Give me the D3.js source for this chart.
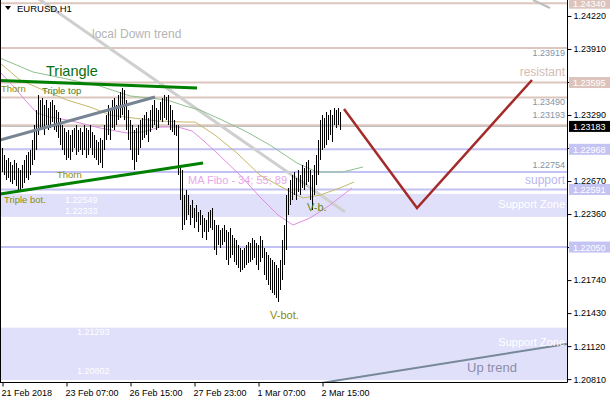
<!DOCTYPE html>
<html><head><meta charset="utf-8">
<script src="https://cdn.jsdelivr.net/npm/d3@7"></script>
<style>
body{margin:0;background:#fff;}
svg{display:block;font-family:"Liberation Sans",Arial,sans-serif;}
</style></head><body>
<svg id="c" width="610" height="400"></svg>
<script>
// ---------- data ----------
const symbol = "EURUSD,H1";
const dateLabels = ["21 Feb 2018","23 Feb 07:00","26 Feb 15:00","27 Feb 23:00","1 Mar 07:00","2 Mar 15:00"];
const dateIndex = [0,32,64,96,128,160];
const priceTicks = [1.24220,1.23910,1.23600,1.23290,1.22980,1.22670,1.22360,1.22050,1.21740,1.21430,1.21120,1.20810];

const highs = [
1.22980,1.22914,1.22867,1.22886,1.22849,1.22820,1.22867,1.22839,1.22792,1.22773,1.22820,1.22867,1.22914,1.22943,1.22961,
1.23055,1.23196,1.23337,1.23478,1.23431,1.23450,1.23384,1.23431,1.23356,1.23412,1.23431,1.23384,1.23337,1.23318,1.23262,
1.23196,1.23168,1.23131,1.23149,1.23102,1.23149,1.23168,1.23196,1.23149,1.23168,1.23131,1.23196,1.23168,1.23149,1.23196,
1.23131,1.23102,1.23055,1.23037,1.23074,1.23055,1.23196,1.23290,1.23384,1.23337,1.23431,1.23450,1.23384,1.23478,1.23506,
1.23544,1.23525,1.23431,1.23337,1.23243,1.23196,1.23149,1.23168,1.23196,1.23243,1.23262,1.23290,1.23318,1.23262,1.23337,
1.23384,1.23431,1.23356,1.23337,1.23412,1.23450,1.23478,1.23459,1.23478,1.23384,1.23337,1.23243,1.23196,1.23196,1.22820,
1.22773,1.22538,1.22585,1.22538,1.22445,1.22492,1.22417,1.22445,1.22379,1.22398,1.22351,1.22323,1.22304,1.22379,1.22398,
1.22417,1.22304,1.22257,1.22257,1.22210,1.22229,1.22257,1.22210,1.22192,1.22229,1.22163,1.22135,1.22116,1.22069,1.22041,
1.22022,1.22041,1.22069,1.22098,1.22088,1.22135,1.22116,1.22088,1.22069,1.22154,1.22116,1.22041,1.22004,1.21975,1.21947,
1.21928,1.21910,1.21881,1.21853,1.21928,1.22116,1.22257,1.22538,1.22605,1.22679,1.22726,1.22755,1.22699,1.22773,1.22726,
1.22820,1.22792,1.22849,1.22867,1.22773,1.22726,1.22820,1.22914,1.23055,1.23243,1.23290,1.23262,1.23318,1.23290,1.23337,
1.23290,1.23356,1.23337,1.23356,1.23318];
const lows = [
1.22755,1.22726,1.22679,1.22699,1.22661,1.22642,1.22679,1.22623,1.22585,1.22567,1.22605,1.22652,1.22699,1.22679,1.22726,
1.22820,1.22867,1.22961,1.23102,1.23149,1.23168,1.23102,1.23196,1.23149,1.23168,1.23224,1.23149,1.23131,1.23074,1.23008,
1.22961,1.22914,1.22867,1.22886,1.22867,1.22943,1.22980,1.22914,1.22943,1.22961,1.22914,1.22961,1.22886,1.22914,1.22980,
1.22914,1.22886,1.22867,1.22820,1.22839,1.22792,1.22961,1.23055,1.23102,1.23055,1.23168,1.23149,1.23196,1.23243,1.23262,
1.23290,1.23243,1.23149,1.23055,1.22961,1.22867,1.22773,1.22849,1.22914,1.22980,1.23055,1.23074,1.23102,1.23037,1.23131,
1.23168,1.23196,1.23149,1.23168,1.23243,1.23224,1.23262,1.23243,1.23196,1.23149,1.23131,1.23102,1.23093,1.22726,1.22492,
1.22210,1.22257,1.22304,1.22351,1.22257,1.22323,1.22229,1.22285,1.22192,1.22257,1.22135,1.22192,1.22116,1.22192,1.22229,
1.22210,1.22022,1.21975,1.22069,1.22041,1.22069,1.22098,1.21928,1.21881,1.21947,1.21975,1.21910,1.21881,1.21853,1.21816,
1.21834,1.21853,1.21881,1.21900,1.21910,1.21928,1.21947,1.21881,1.21834,1.21910,1.21947,1.21787,1.21740,1.21693,1.21646,
1.21619,1.21599,1.21572,1.21534,1.21646,1.21740,1.21881,1.22022,1.22351,1.22445,1.22492,1.22538,1.22492,1.22567,1.22538,
1.22605,1.22585,1.22632,1.22661,1.22492,1.22398,1.22538,1.22632,1.22726,1.22867,1.22961,1.22980,1.23008,1.23055,1.23102,
1.23037,1.23196,1.23168,1.23196,1.23149];
const lastPrice = 1.23183;

// Moving averages [barIndex, price]
const ma34 = [[-1,1.23694],[6.5,1.23544],[11.5,1.23431],[17.5,1.23309],[24,1.23271],[32.5,1.23243],[39,1.23215],[49,1.23168],[62.5,1.23121],[70.5,1.23131],[79,1.23177],[88,1.23177],[95,1.23140],[101.5,1.23037],[107.5,1.22933],[119,1.22726],[129,1.22520],[138,1.22351],[145.5,1.22257],[154,1.22323],[164,1.22445],[175,1.22605]];
const ma55 = [[-1,1.23778],[9,1.23619],[20.5,1.23525],[32.5,1.23431],[44,1.23365],[54,1.23290],[65.5,1.23262],[77.5,1.23234],[91.5,1.23224],[96.5,1.23224],[106.5,1.23102],[117.5,1.22933],[129,1.22726],[142.5,1.22585],[150.5,1.22511],[159,1.22538],[169,1.22605],[176,1.22661]];
const ma89 = [[-1,1.23825],[15.5,1.23694],[32.5,1.23628],[49,1.23562],[64,1.23469],[82.5,1.23431],[91.5,1.23375],[99,1.23337],[110,1.23243],[121.5,1.23140],[134,1.23008],[147.5,1.22839],[157.5,1.22755],[170.5,1.22755],[180.5,1.22802]];

// Levels and zones
const resistLevels = [1.24340,1.23919,1.23595,1.23455,1.23193];
const supportLevels = [1.22968,1.22754,1.22591,1.22050];
const zones = [[1.22549,1.22333],[1.21293,1.20802]];
const levelTexts = ["1.23919","1.23490","1.23193","1.22754"];
const levelTextPrices = [1.23919,1.23455,1.23193,1.22754];
const zoneTexts = ["1.22549","1.22333","1.21293","1.20802"];
const resistBoxes = [1.24340,1.23595];
const supportBoxes = [1.22968,1.22591,1.22050];

// Trend lines [barIndex, price]
const downTrend = [[15.5,1.24417],[171.5,1.22379]];
const triUpper = [[-1,1.23614],[97.5,1.23544]];
const triLower = [[-1,1.22548],[100.5,1.22839]];
const slateLine = [[-1,1.23055],[76.5,1.23459]];
const projection = [[171,1.23346],[207.5,1.22417],[265,1.23619]];
const upTrend = [[150,1.20745],[282.5,1.21140]];
const topLine = [[265.5,1.24370],[274,1.24295]];

// ---------- drawing ----------
const W = 567, H = 382;
const svg = d3.select("#c");
const x = d3.scaleLinear().domain([-1, 282.5]).range([0, W]);
const y = d3.scaleLinear().domain([1.24370, 1.20783]).range([0, 382]);

svg.append("defs").append("clipPath").attr("id","plot")
  .append("rect").attr("x",0).attr("y",0).attr("width",W).attr("height",H);
const g = svg.append("g").attr("clip-path","url(#plot)");

// zones
g.selectAll(".zone").data(zones).join("rect")
  .attr("x",0).attr("width",W)
  .attr("y",d=>y(d[0])).attr("height",d=>y(d[1])-y(d[0]))
  .attr("fill","#e0e0fa");

// level lines
g.selectAll(".rl").data(resistLevels).join("line")
  .attr("x1",0).attr("x2",W).attr("y1",d=>y(d)).attr("y2",d=>y(d))
  .attr("stroke","#dcc6be").attr("stroke-width",2);
g.selectAll(".sl").data(supportLevels).join("line")
  .attr("x1",0).attr("x2",W).attr("y1",d=>y(d)).attr("y2",d=>y(d))
  .attr("stroke","#c2c2f4").attr("stroke-width",2);
g.append("line").attr("x1",0).attr("x2",W).attr("y1",Math.round(y(lastPrice))+0.5).attr("y2",Math.round(y(lastPrice))+0.5)
  .attr("stroke","#c0c0c0").attr("stroke-width",1);

const line = d3.line().x(d=>x(d[0])).y(d=>y(d[1]));

// trend lines behind
g.append("path").attr("d",line(downTrend)).attr("stroke","#cfcfcf").attr("stroke-width",3).attr("fill","none");
g.append("path").attr("d",line(topLine)).attr("stroke","#bdbdbd").attr("stroke-width",2).attr("fill","none");

// moving averages
g.append("path").attr("d",line(ma89)).attr("stroke","#8fc08f").attr("stroke-width",1).attr("fill","none");
g.append("path").attr("d",line(ma55)).attr("stroke","#c8b868").attr("stroke-width",1).attr("fill","none");
g.append("path").attr("d",line(ma34)).attr("stroke","#e08ce0").attr("stroke-width",1).attr("fill","none");

// bars
g.selectAll(".bar").data(highs).join("line")
  .attr("x1",(d,i)=>Math.round(x(i))+0.5).attr("x2",(d,i)=>Math.round(x(i))+0.5)
  .attr("y1",d=>y(d)).attr("y2",(d,i)=>y(lows[i]))
  .attr("stroke","#000").attr("stroke-width",1).attr("shape-rendering","crispEdges");

// triangle & others
g.append("path").attr("d",line(slateLine)).attr("stroke","#778494").attr("stroke-width",3).attr("fill","none");
g.append("path").attr("d",line(triUpper)).attr("stroke","#008000").attr("stroke-width",3).attr("fill","none");
g.append("path").attr("d",line(triLower)).attr("stroke","#008000").attr("stroke-width",3).attr("fill","none");
g.append("path").attr("d",line(projection)).attr("stroke","#a52a2a").attr("stroke-width",2.5).attr("fill","none");
g.append("path").attr("d",line(upTrend)).attr("stroke","#778899").attr("stroke-width",2).attr("fill","none");

// texts in plot
function txt(s,px,py,opts){
  const t = g.append("text").attr("x",px).attr("y",py).text(s)
    .attr("font-size",opts.size||10).attr("fill",opts.fill||"#000");
  if(opts.anchor) t.attr("text-anchor",opts.anchor);
  return t;
}
txt("local Down trend",92,38,{size:12,fill:"#b4b4b4"});
txt("Triangle",46,76,{size:14.5,fill:"#0a6e0a"});
const lblCol = "#8c8c00";
txt("Thorn",1,92,{size:9.5,fill:lblCol});
txt("Triple top",42,94,{size:9.5,fill:"#4a7a1a"});
txt("Thorn",57,178,{size:9.5,fill:lblCol});
txt("Triple bot.",4,203,{size:9.5,fill:lblCol});
txt("MA Fibo - 34; 55; 89",188,184,{size:11,fill:"#e8a8e8"});
txt("V-b.",307,211,{size:11,fill:"#5a8a20"});
txt("V-bot.",270,319,{size:11,fill:"#8a8a10"});
txt("Up trend",467,372,{size:13,fill:"#8c8ca6"});
txt("support",565,184,{size:12,fill:"#b8b8f0",anchor:"end"});
txt("resistant",565,76,{size:12,fill:"#d4bcb4",anchor:"end"});
txt("Support Zone",565,208,{size:11,fill:"#fff",anchor:"end"});
txt("Support Zone",565,346,{size:11,fill:"#fff",anchor:"end"});

// level value texts
const levelDy = [8,8,-7,-4];
levelTexts.forEach((s,i)=>{
  txt(s,565,y(levelTextPrices[i])+levelDy[i],{size:9,fill:"#8494a8",anchor:"end"});
});
const zoneTextY = [zones[0][0],zones[0][1],zones[1][0],zones[1][1]];
const zoneDy = [9,-3,7,-6];
zoneTexts.forEach((s,i)=>{
  txt(s,i<2?65:77,y(zoneTextY[i])+zoneDy[i],{size:9,fill:"#fff"});
});

// symbol header
svg.append("path").attr("d","M5,6 L11,6 L8,10 Z").attr("fill","#000");
svg.append("text").attr("x",17).attr("y",12).text(symbol).attr("font-size",9.5).attr("fill","#000");

// frame
svg.append("line").attr("x1",0.5).attr("x2",0.5).attr("y1",0).attr("y2",H).attr("stroke","#000");

// axes
const yAxis = d3.axisRight(y).tickValues(priceTicks).tickSize(4).tickFormat(d=>d.toFixed(5));
const ya = svg.append("g").attr("transform",`translate(${W+0.5},0)`).call(yAxis);
ya.select(".domain").attr("d",`M0,0V${H+0.5}`).attr("stroke","#000");
ya.selectAll("text").attr("font-size",9).attr("font-family","Liberation Sans, Arial").attr("x",6).attr("fill","#000");

const xAxis = d3.axisBottom(x).tickValues(dateIndex).tickSize(4).tickFormat((d,i)=>dateLabels[i]);
const xa = svg.append("g").attr("transform",`translate(0,${H+0.5})`).call(xAxis);
xa.select(".domain").attr("d",`M0,0H${W+0.5}`).attr("stroke","#000");
xa.selectAll(".tick line").attr("transform","translate(0.5,0)");
xa.selectAll("text").attr("font-size",9).attr("font-family","Liberation Sans, Arial")
  .attr("text-anchor","start").attr("dx",-1).attr("y",7).attr("fill","#000");

// right price boxes
function box(v,bg){
  const cy = y(v);
  svg.append("rect").attr("x",W+2).attr("y",cy-5.5).attr("width",610-W-2).attr("height",11).attr("fill",bg);
  svg.append("text").attr("x",W+6).attr("y",cy+3.5).text(v.toFixed(5)).attr("font-size",9).attr("fill","#fff");
}
resistBoxes.forEach(v=>box(v,"#dcc4bc"));
supportBoxes.forEach(v=>box(v,"#c4c4f4"));
box(lastPrice,"#000");
</script></body></html>
